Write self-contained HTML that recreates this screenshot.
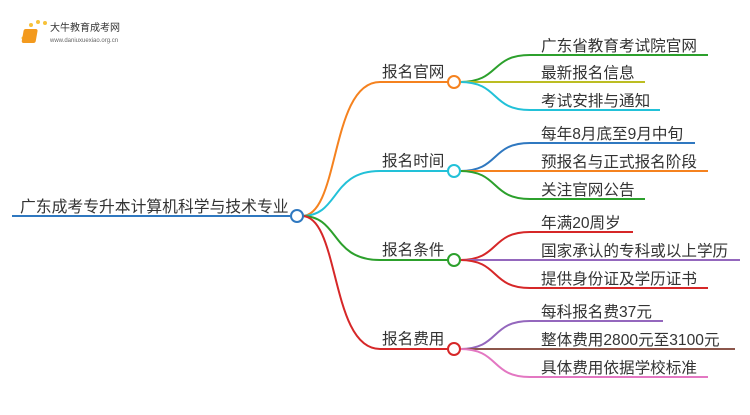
<!DOCTYPE html>
<html><head><meta charset="utf-8"><style>
body{margin:0;background:#fff;width:750px;height:410px;overflow:hidden}
svg text{font-family:"Liberation Sans","Noto Sans CJK SC",sans-serif;font-size:15.6px;fill:#333}
</style></head><body>
<svg width="750" height="410" xmlns="http://www.w3.org/2000/svg">
<g fill="none" stroke-width="2">
<circle cx="27" cy="32" r="2" fill="#f7c23a" stroke="none"/><circle cx="31" cy="25" r="2" fill="#f7c23a" stroke="none"/><circle cx="38" cy="22" r="2" fill="#f7c23a" stroke="none"/><circle cx="45" cy="23" r="2" fill="#f7c23a" stroke="none"/><circle cx="23" cy="38" r="1.5" fill="#f7c23a" stroke="none"/>
<rect x="29" y="29" width="14" height="14" rx="2" fill="#f39a1e" stroke="none" transform="skewX(-10)"/>
<path d="M12 216 H290" stroke="#2f78c0"/>
<path d="M302 216 C340 216 330 82 380 82 H448" stroke="#f5821f"/>
<path d="M302 216 C340 216 330 171 380 171 H448" stroke="#22c1d8"/>
<path d="M302 216 C340 216 330 260 380 260 H448" stroke="#2ca02c"/>
<path d="M302 216 C340 216 330 349 380 349 H448" stroke="#d62728"/>
<path d="M460 82 C500 82 490 55 530 55 H708" stroke="#2ca02c"/>
<path d="M460 82 H645" stroke="#bcbd22"/>
<path d="M460 82 C500 82 490 110 530 110 H660" stroke="#22c1d8"/>
<path d="M460 171 C500 171 490 143 530 143 H695" stroke="#2f78c0"/>
<path d="M460 171 H708" stroke="#f5821f"/>
<path d="M460 171 C500 171 490 199 530 199 H645" stroke="#2ca02c"/>
<path d="M460 260 C500 260 490 232 530 232 H633" stroke="#d62728"/>
<path d="M460 260 H740" stroke="#9467bd"/>
<path d="M460 260 C500 260 490 288 530 288 H708" stroke="#d62728"/>
<path d="M460 349 C500 349 490 321 530 321 H663" stroke="#9467bd"/>
<path d="M460 349 H735" stroke="#8c564b"/>
<path d="M460 349 C500 349 490 377 530 377 H708" stroke="#e377c2"/>
<circle cx="297" cy="216" r="6" stroke="#2f78c0" fill="#fff"/>
<circle cx="454" cy="82" r="6" stroke="#f5821f" fill="#fff"/>
<circle cx="454" cy="171" r="6" stroke="#22c1d8" fill="#fff"/>
<circle cx="454" cy="260" r="6" stroke="#2ca02c" fill="#fff"/>
<circle cx="454" cy="349" r="6" stroke="#d62728" fill="#fff"/>
</g>
<text x="50" y="31" style="font-size:10px">大牛教育成考网</text>
<text x="50" y="42" style="font-size:6px;fill:#666">www.daniuxuexiao.org.cn</text>
<text x="20" y="212" style="font-size:15.8px">广东成考专升本计算机科学与技术专业</text>
<text x="382" y="77">报名官网</text>
<text x="382" y="166">报名时间</text>
<text x="382" y="255">报名条件</text>
<text x="382" y="344">报名费用</text>
<text x="541" y="51">广东省教育考试院官网</text>
<text x="541" y="78">最新报名信息</text>
<text x="541" y="106">考试安排与通知</text>
<text x="541" y="139">每年8月底至9月中旬</text>
<text x="541" y="167">预报名与正式报名阶段</text>
<text x="541" y="195">关注官网公告</text>
<text x="541" y="228">年满20周岁</text>
<text x="541" y="256">国家承认的专科或以上学历</text>
<text x="541" y="284">提供身份证及学历证书</text>
<text x="541" y="317">每科报名费37元</text>
<text x="541" y="345">整体费用2800元至3100元</text>
<text x="541" y="373">具体费用依据学校标准</text>
</svg>
</body></html>
